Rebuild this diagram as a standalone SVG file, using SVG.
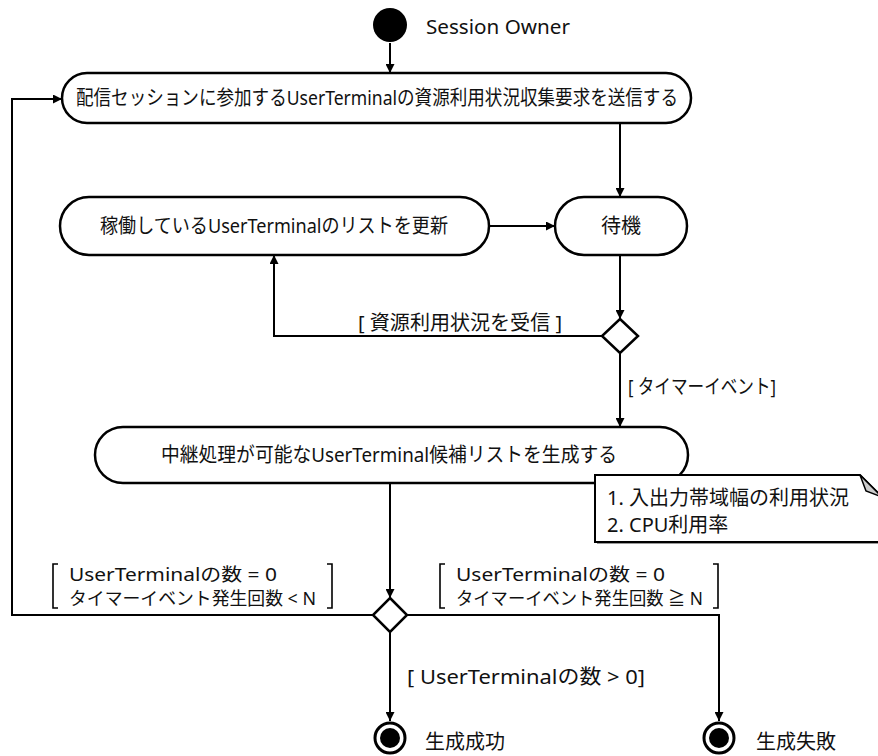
<svg xmlns="http://www.w3.org/2000/svg" width="878" height="756" viewBox="0 0 878 756">
  <defs>
    <marker id="arrow" viewBox="0 0 10 10" refX="10" refY="5" markerWidth="9" markerHeight="9" markerUnits="userSpaceOnUse" orient="auto">
      <path d="M0,0 L10,5 L0,10 z" fill="#000"/>
    </marker>
    <style>
      text { font-family: "Noto Sans", "Noto Sans CJK JP", sans-serif; font-size: 20px; fill: #111; }
      .mid { text-anchor: middle; }
      .guard2 { font-size: 18px; }
      .action { fill: #fff; stroke: #000; stroke-width: 2.5; }
      .decision { fill: #fff; stroke: #000; stroke-width: 2.5; }
      .flow { fill: none; stroke: #000; stroke-width: 2; }
      .bracket { fill: none; stroke: #000; stroke-width: 1.6; }
    </style>
  </defs>
  <rect width="878" height="756" fill="#fff"/>

  <!-- connectors -->
  <g id="connectors">
    <path class="flow" d="M390,43 L390,73" marker-end="url(#arrow)"/>
    <path class="flow" d="M620,123 L620,197" marker-end="url(#arrow)"/>
    <path class="flow" d="M489,226 L555,226" marker-end="url(#arrow)"/>
    <path class="flow" d="M620,255 L620,319" marker-end="url(#arrow)"/>
    <path class="flow" d="M603,336 L274,336 L274,255" marker-end="url(#arrow)"/>
    <path class="flow" d="M620,353 L620,427" marker-end="url(#arrow)"/>
    <path class="flow" d="M390,483 L390,598" marker-end="url(#arrow)"/>
    <path class="flow" d="M373,615 L12,615 L12,99 L62,99" marker-end="url(#arrow)"/>
    <path class="flow" d="M407,615 L719,615 L719,721" marker-end="url(#arrow)"/>
    <path class="flow" d="M390,632 L390,721" marker-end="url(#arrow)"/>

    <!-- guard labels -->
    <text x="358" y="330" textLength="204" lengthAdjust="spacingAndGlyphs">[ 資源利用状況を受信 ]</text>
    <text x="628" y="394" textLength="148" lengthAdjust="spacingAndGlyphs">[ タイマーイベント]</text>
    <text x="407" y="684" textLength="238" lengthAdjust="spacingAndGlyphs">[ UserTerminalの数 &gt; 0]</text>

    <g id="guard-retry">
      <path class="bracket" d="M58,564 L53,564 L53,608 L58,608"/>
      <text class="guard2" x="69" y="581" textLength="208" lengthAdjust="spacingAndGlyphs">UserTerminalの数 = 0</text>
      <text class="guard2" x="69" y="605" textLength="247" lengthAdjust="spacingAndGlyphs">タイマーイベント発生回数 &lt; N</text>
      <path class="bracket" d="M327,564 L332,564 L332,608 L327,608"/>
    </g>
    <g id="guard-fail">
      <path class="bracket" d="M445,564 L440,564 L440,608 L445,608"/>
      <text class="guard2" x="456" y="581" textLength="209" lengthAdjust="spacingAndGlyphs">UserTerminalの数 = 0</text>
      <text class="guard2" x="456" y="605" textLength="247" lengthAdjust="spacingAndGlyphs">タイマーイベント発生回数 ≧ N</text>
      <path class="bracket" d="M713,564 L718,564 L718,608 L713,608"/>
    </g>
  </g>

  <g id="start">
    <circle cx="390" cy="25" r="17" fill="#000"/>
    <text x="426" y="34" textLength="144" lengthAdjust="spacingAndGlyphs">Session Owner</text>
  </g>

  <g id="request">
    <rect class="action" x="62" y="73" width="629" height="50" rx="25"/>
    <text x="76" y="105" textLength="602" lengthAdjust="spacingAndGlyphs">配信セッションに参加するUserTerminalの資源利用状況収集要求を送信する</text>
  </g>

  <g id="update-list">
    <rect class="action" x="60" y="197" width="429" height="58" rx="29"/>
    <text x="100" y="233" textLength="348" lengthAdjust="spacingAndGlyphs">稼働しているUserTerminalのリストを更新</text>
  </g>

  <g id="wait">
    <rect class="action" x="555" y="197" width="132" height="58" rx="29"/>
    <text x="621" y="233" class="mid">待機</text>
  </g>

  <g id="decision-receive">
    <path class="decision" d="M620,319 L638,336 L620,353 L602,336 z"/>
  </g>

  <g id="make-candidates">
    <rect class="action" x="95" y="427" width="593" height="56" rx="28"/>
    <text x="161" y="462" textLength="456" lengthAdjust="spacingAndGlyphs">中継処理が可能なUserTerminal候補リストを生成する</text>
  </g>

  <g id="note">
    <path d="M597,477 L862,477 L900,515 L900,544 L597,544 z" fill="#999"/>
    <path d="M595,475 L860,475 L898,513 L898,542 L595,542 z" fill="#fff" stroke="#000" stroke-width="2"/>
    <path d="M860,475 L866,491 L882,497 z" fill="#ccc" stroke="#000" stroke-width="1.5"/>
    <text x="607" y="505">1. 入出力帯域幅の利用状況</text>
    <text x="607" y="532">2. CPU利用率</text>
  </g>

  <g id="decision-count">
    <path class="decision" d="M390,598 L407,615 L390,632 L373,615 z"/>
  </g>

  <g id="end-success">
    <circle cx="390" cy="738" r="15" fill="#fff" stroke="#000" stroke-width="3"/>
    <circle cx="390" cy="738" r="10" fill="#000"/>
    <text x="425" y="749">生成成功</text>
  </g>

  <g id="end-failure">
    <circle cx="719" cy="738" r="15" fill="#fff" stroke="#000" stroke-width="3"/>
    <circle cx="719" cy="738" r="10" fill="#000"/>
    <text x="756" y="749">生成失敗</text>
  </g>
</svg>
